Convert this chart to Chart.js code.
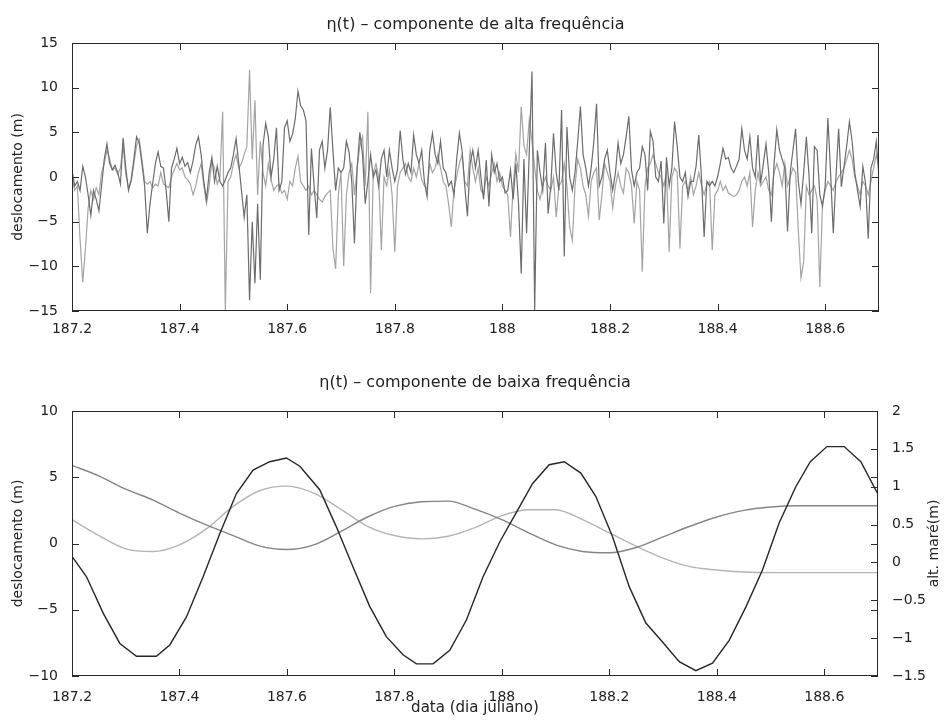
<!DOCTYPE html>
<html>
<head>
<meta charset="utf-8">
<script src="https://cdn.jsdelivr.net/npm/chart.js@4.4.1/dist/chart.umd.min.js"></script>
<style>
  html, body { margin: 0; padding: 0; background: #fff; }
  #wrap { position: relative; width: 946px; height: 727px; }
  canvas { position: absolute; left: 0; }
</style>
</head>
<body>
<div id="wrap">
  <canvas id="hf" width="946" height="350" style="top:0px"></canvas>
  <canvas id="lf" width="946" height="377" style="top:350px"></canvas>
</div>
<script>
// ---- high-frequency record: uniform sampling, 0.005 day ----
const hfStart = 187.2;
const hfStep = 0.005;

const hfDark = [
  // 187.20 - 187.45
  0.8, -1.0, -0.5, -1.5, 1.2, 0.0, -2.0, -4.3, -1.5, -2.5,
  -3.8, -1.0, 2.0, 3.7, 1.5, 0.8, 1.3, 0.5, -0.8, 4.4,
  1.0, -1.5, -0.3, 2.0, 4.5, 3.8, 1.5, -1.0, -6.3, -3.0,
  -0.7, 1.5, 2.8, 1.2, 1.0, -1.5, -5.0, 1.0, 2.0, 3.2,
  1.5, 2.2, 1.2, 1.6, 0.5, 1.8, 3.6, 4.5, 2.5, -0.5,
  -2.5,
  // 187.455 - 187.70
  0.5, 2.2, -0.5, 1.2, -0.5, -1.0, -0.3, 0.5, 1.0, 2.5,
  4.3, 1.5, -1.5, -4.5, -2.0, -13.8, -5.0, -11.9, -3.0, -11.5,
  3.5, 6.0, 4.5, 0.0, 2.0, 5.5, -1.5, -0.5, 5.5, 6.3,
  4.0, 4.8, 6.5, 9.6, 8.0, 7.5, 6.3, -6.5, 3.2, -1.0,
  -4.6, 3.0, 4.0, 1.0, 3.0, 7.8, 3.0, -1.5, 1.0, 0.5,
  // 187.705 - 187.95
  1.0, 4.0, 2.8, -0.5, -7.4, 1.0, 5.0, 2.5, -3.0, -0.5,
  2.5, 0.0, 0.8, -1.0, 2.0, 3.0, 0.0, 3.0, 1.0, -0.5,
  0.8, 5.2, 2.0, 0.3, 1.5, 0.5, 4.7, 2.5, 1.5, 3.0,
  -0.5, -2.2, 3.0, 4.9, 2.5, 1.5, 4.0, 1.0, 0.5, -1.0,
  -0.5, -2.0, 2.0, 4.9, 3.0, -1.0, -4.4, 1.5, 3.0, 1.0,
  // 187.955 - 188.20
  3.0, 0.0, -2.5, 1.9, -3.3, 2.5, 0.5, 1.5, -0.5, 0.0,
  -1.8, -1.5, 0.8, -2.5, 1.5, -3.0, -10.8, 2.0, -6.3, 3.0,
  11.8, -14.9, 3.0, 0.5, -1.5, 3.8, -4.1, -1.0, 4.9, 0.5,
  -1.5, 7.5, -8.9, 5.6, 0.0, -1.5, 0.5, 4.0, 7.9, 2.5,
  1.0, -1.0, 1.0, 4.0, 8.2, -1.0, 0.0, 2.0, 3.0, 0.5,
  // 188.205 - 188.45
  -1.5, 0.4, 3.8, 1.5, 2.5, 4.5, 6.8, 0.8, -1.0, 0.5,
  1.0, 3.4, 2.5, -1.5, 5.1, 4.0, 0.0, -0.5, 1.8, -5.2,
  2.2, -1.0, 1.0, 6.2, 3.4, 0.0, -0.5, 0.5, -2.2, -0.5,
  -0.5, 1.2, 4.7, 0.0, -6.7, -0.5, -1.0, -0.5, -1.0, 0.0,
  1.5, 3.2, 2.0, 2.2, 1.0, 0.5, 1.2, 2.0, 5.4, 3.0,
  // 188.455 - 188.70
  2.0, 4.5, 1.0, 0.0, 4.7, -0.7, 1.5, 3.7, 0.5, -5.0,
  1.5, 5.3, 3.0, 2.0, 1.0, -6.1, 0.5, 3.0, 5.4, -0.5,
  -3.0, 0.5, 4.5, 0.0, -6.3, 3.4, 3.0, -2.0, -3.3, -1.0,
  6.6, 0.5, -6.3, 0.0, 5.4, -1.1, 1.2, 3.5, 6.2, 4.0,
  0.5, -1.5, -3.3, 1.2, -0.7, -6.9, 1.0, 2.0, 4.0, 0.0
];

const hfLight = [
  // 187.20 - 187.45
  0.0, -1.5, -1.0, -7.0, -11.8, -8.0, -3.5, -1.5, -2.5, -1.2,
  -2.0, 0.5, 1.5, 3.0, 2.0, 0.8, 1.0, 0.3, 1.0, 3.5,
  0.3, -1.2, -0.5, 1.5, 3.5, 4.2, 2.0, -0.5, -0.8, -0.5,
  -1.2, -0.8, -1.0, 0.5, -0.8, -1.0, -1.2, 0.0, 0.8, 1.5,
  0.8, 1.0, 0.0, -0.3, -0.8, -2.0, -1.0, 0.5, 1.5, -1.0,
  -3.0,
  // 187.455 - 187.70
  -1.0, 1.8, 1.0, -0.8, 0.0, 7.3, -14.9, -0.5, 0.0, 1.5,
  2.5, 1.0, 1.5, 2.5, 3.4, 12.0, 2.0, 8.6, -2.0, 4.0,
  0.5, -1.0, 1.5, -0.3, -1.5, -1.0, -0.8, -1.8, -1.5, -2.5,
  -0.5, -1.0, 1.0, 2.3, -0.5, -1.0, -1.5, -1.0, -2.0, -1.5,
  -2.0, -2.5, -2.8, -2.2, -1.8, -1.5, -8.0, -10.3, -2.0, 0.5,
  // 187.705 - 187.95
  -10.0, -2.0, 0.5, 1.5, -2.0, 1.0, 3.5, 4.5, -1.0, 7.3,
  -13.0, 0.5, 1.5, 0.0, -8.2, 0.0, -1.0, 0.8, -2.0, -8.4,
  -1.0, 0.5, 1.0, 1.5, 0.0, -0.5, 1.0, 0.0, 1.5, -0.3,
  -1.0, -1.3, 1.5, 0.5, 1.0, 2.5, 1.0, -0.5, -1.0, -3.0,
  -5.6, -1.5, 0.0, 1.5, 2.5, -0.5, -1.0, 3.0, 1.0, -0.5,
  // 187.955 - 188.20
  1.0, -1.5, -2.0, 0.0, -1.0, 0.5, 1.5, -0.5, 0.5, -1.0,
  -1.5, -2.0, -6.7, -1.0, 2.6, 0.5, 7.9, 3.5, 2.5, 6.4,
  4.0, 1.0, -1.5, -2.5, -1.0, 0.0, -1.0, -1.5, 0.0, -4.5,
  -1.0, -0.5, 1.5, -1.0, -5.6, -7.1, -1.0, 2.0, 1.0, -1.0,
  -2.0, -4.4, -0.5, 0.5, 1.0, -4.8, -2.0, 1.5, 0.5, -0.5,
  // 188.205 - 188.45
  -3.5, -1.0, 0.5, -1.0, -1.8, 1.0, 0.5, -1.0, -5.2, -0.5,
  -1.5, -10.6, -1.0, 1.0, 1.5, 2.5, 1.5, 0.5, 0.0, -1.0,
  0.5, -8.4, 0.0, 1.0, 0.5, -8.0, -1.0, -0.5, -1.5, 0.0,
  -2.0, -1.0, 0.5, -1.0, -2.0, -0.8, -0.5, -8.2, -2.0, -1.5,
  -0.5, -1.5, -1.0, -1.8, -2.0, -2.2, -2.0, -1.5, -0.5, 0.0,
  // 188.455 - 188.70
  -1.0, 0.5, -5.6, -1.5, 0.5, -1.0, -0.5, 0.0, -1.5, -2.0,
  0.5, 1.5, 0.5, -1.0, 1.5, -1.0, 0.0, 1.0, 0.5, -6.0,
  -11.3, -9.5, -1.0, -2.0, -1.5, -1.0, -2.5, -12.3, -3.0, -1.5,
  -0.5, -1.0, -1.5, -0.5, 0.0, 0.5, 1.0, 2.0, 3.0, 2.0,
  0.0, -1.0, -2.0, -0.5, -1.0, -2.0, -0.5, 1.0, 2.5, 1.0
];

// ---- low-frequency components (deslocamento, m) ----
const lfTime = [187.20, 187.25, 187.30, 187.35, 187.40, 187.45, 187.50, 187.55, 187.60, 187.65,
                187.70, 187.75, 187.80, 187.85, 187.90, 187.95, 188.00, 188.05, 188.10, 188.15,
                188.20, 188.25, 188.30, 188.35, 188.40, 188.45, 188.50, 188.55, 188.60, 188.65, 188.70];
const lfDark  = [5.9, 5.1, 4.1, 3.3, 2.3, 1.4, 0.6, -0.2, -0.45, -0.1,
                 0.9, 2.0, 2.8, 3.15, 3.2, 2.6, 1.8, 0.8, -0.1, -0.6,
                 -0.7, -0.3, 0.5, 1.3, 2.0, 2.5, 2.75, 2.85, 2.85, 2.85, 2.85];
const lfLight = [1.8, 0.6, -0.4, -0.6, -0.1, 1.1, 2.8, 4.0, 4.33, 3.8,
                 2.6, 1.3, 0.6, 0.35, 0.55, 1.2, 2.1, 2.55, 2.55, 1.8,
                 0.8, -0.2, -1.1, -1.75, -2.0, -2.15, -2.2, -2.2, -2.2, -2.2, -2.2];

// ---- tide height (alt. maré, m) ----
const tideTime = [187.200, 187.227, 187.258, 187.289, 187.320, 187.357, 187.382, 187.413, 187.444, 187.475,
                  187.506, 187.537, 187.568, 187.599, 187.624, 187.661, 187.692, 187.723, 187.754, 187.785,
                  187.816, 187.841, 187.872, 187.903, 187.934, 187.965, 187.996, 188.027, 188.057, 188.088,
                  188.116, 188.147, 188.175, 188.206, 188.237, 188.268, 188.299, 188.330, 188.361, 188.392,
                  188.423, 188.454, 188.485, 188.516, 188.547, 188.574, 188.605, 188.637, 188.668, 188.700];
const tideHeight = [0.08, -0.19, -0.67, -1.07, -1.24, -1.24, -1.09, -0.72, -0.19, 0.38,
                    0.91, 1.22, 1.33, 1.38, 1.27, 0.96, 0.47, -0.06, -0.58, -0.98,
                    -1.22, -1.34, -1.34, -1.16, -0.76, -0.19, 0.27, 0.66, 1.04, 1.29,
                    1.33, 1.18, 0.87, 0.34, -0.32, -0.80, -1.05, -1.31, -1.43, -1.33,
                    -1.03, -0.59, -0.10, 0.52, 1.00, 1.33, 1.53, 1.53, 1.33, 0.90];

// ---- axis ticks ----
const dayTicks = [187.2, 187.4, 187.6, 187.8, 188, 188.2, 188.4, 188.6];
const hfTicks = [-15, -10, -5, 0, 5, 10, 15];
const lfTicks = [-10, -5, 0, 5, 10];
const tideTicks = [-1.5, -1, -0.5, 0, 0.5, 1, 1.5, 2];

const INK = '#222';
const FONT = 'DejaVu Sans';
Chart.defaults.font.family = FONT;
Chart.defaults.font.size = 14;
Chart.defaults.color = INK;

const fmt = v => String(v).replace('-', '\u2212');
const fixedTicks = list => (s => { s.ticks = list.map(v => ({ value: v })); });

// Box frame, inward tick marks on all sides, panel title and right-hand label
const panelFrame = {
  id: 'panelFrame',
  afterDatasetsDraw(chart, args, opts) {
    const { ctx, chartArea: a } = chart;
    const L = 7;
    ctx.save();
    ctx.strokeStyle = '#2a2a2a';
    ctx.lineWidth = 1;
    ctx.strokeRect(a.left + 0.5, a.top + 0.5, a.right - a.left - 1, a.bottom - a.top - 1);
    ctx.beginPath();
    const xs = chart.scales.x;
    xs.ticks.forEach(t => {
      const px = Math.round(xs.getPixelForValue(t.value)) + 0.5;
      ctx.moveTo(px, a.bottom); ctx.lineTo(px, a.bottom - L);
      ctx.moveTo(px, a.top); ctx.lineTo(px, a.top + L);
    });
    const ys = chart.scales.y;
    ys.ticks.forEach(t => {
      const py = Math.round(ys.getPixelForValue(t.value)) + 0.5;
      ctx.moveTo(a.left, py); ctx.lineTo(a.left + L, py);
      ctx.moveTo(a.right, py); ctx.lineTo(a.right - L, py);
    });
    const y2 = chart.scales.y2;
    if (y2) {
      y2.ticks.forEach(t => {
        const py = Math.round(y2.getPixelForValue(t.value)) + 0.5;
        ctx.moveTo(a.right, py); ctx.lineTo(a.right - L, py);
      });
    }
    ctx.stroke();
    ctx.restore();
  },
  afterDraw(chart, args, opts) {
    const { ctx, chartArea: a } = chart;
    ctx.save();
    ctx.fillStyle = INK;
    ctx.textAlign = 'center';
    ctx.textBaseline = 'middle';
    ctx.font = opts.titleSize + 'px "' + FONT + '"';
    ctx.fillText(opts.title, (a.left + a.right) / 2, opts.titleY);
    if (opts.rightLabel) {
      ctx.font = '14px "' + FONT + '"';
      ctx.translate(opts.rightLabelX, (a.top + a.bottom) / 2);
      ctx.rotate(-Math.PI / 2);
      ctx.fillText(opts.rightLabel, 0, 0);
    }
    ctx.restore();
  }
};

const xScale = (height, pad, title) => ({
  type: 'linear',
  min: 187.2, max: 188.7,
  afterBuildTicks: fixedTicks(dayTicks),
  afterFit: s => { s.height = height; },
  grid: { display: false },
  border: { display: false },
  ticks: { padding: pad, maxRotation: 0, autoSkip: false, callback: v => fmt(v) },
  title: title ? { display: true, text: title, font: { size: 15 }, padding: { top: 0, bottom: 10 } } : { display: false }
});

const yLeft = (min, max, list) => ({
  type: 'linear',
  position: 'left',
  min, max,
  afterBuildTicks: fixedTicks(list),
  afterFit: s => { s.width = 72; },
  grid: { display: false },
  border: { display: false },
  ticks: { padding: 6, autoSkip: false, callback: v => fmt(v) },
  title: { display: true, text: 'deslocamento (m)', padding: { top: 10, bottom: 0 } }
});

const lineSet = (data, color, width, extra) => Object.assign({
  data, borderColor: color, borderWidth: width, pointRadius: 0, tension: 0, fill: false
}, extra || {});

const baseOptions = {
  responsive: false,
  animation: false,
  devicePixelRatio: 1,
  events: [],
};

// ---- top panel: high-frequency component ----
new Chart(document.getElementById('hf'), {
  type: 'line',
  data: {
    datasets: [
      lineSet(hfDark.map((v, i) => ({ x: hfStart + i * hfStep, y: v })), '#6c6c6c', 1.2),
      lineSet(hfLight.map((v, i) => ({ x: hfStart + i * hfStep, y: v })), '#a4a4a4', 1.2)
    ]
  },
  options: Object.assign({}, baseOptions, {
    layout: { padding: { top: 43, right: 67, bottom: 0, left: 0 } },
    scales: {
      x: xScale(39, 2, null),
      y: yLeft(-15, 15, hfTicks)
    },
    plugins: {
      legend: { display: false },
      tooltip: { enabled: false },
      panelFrame: { title: '\u03B7(t) \u2013 componente de alta frequ\u00EAncia', titleY: 25, titleSize: 16 }
    }
  }),
  plugins: [panelFrame]
});

// ---- bottom panel: low-frequency component and tide ----
new Chart(document.getElementById('lf'), {
  type: 'line',
  data: {
    datasets: [
      lineSet(tideTime.map((t, i) => ({ x: t, y: tideHeight[i] })), '#262626', 1.4, { yAxisID: 'y2' }),
      lineSet(lfTime.map((t, i) => ({ x: t, y: lfDark[i] })), '#858585', 1.4, { yAxisID: 'y', cubicInterpolationMode: 'monotone' }),
      lineSet(lfTime.map((t, i) => ({ x: t, y: lfLight[i] })), '#b4b4b4', 1.4, { yAxisID: 'y', cubicInterpolationMode: 'monotone' })
    ]
  },
  options: Object.assign({}, baseOptions, {
    layout: { padding: { top: 61, right: 0, bottom: 0, left: 0 } },
    scales: {
      x: xScale(51, 5, 'data (dia juliano)'),
      y: yLeft(-10, 10, lfTicks),
      y2: {
        type: 'linear',
        position: 'right',
        min: -1.5, max: 2,
        afterBuildTicks: fixedTicks(tideTicks),
        afterFit: s => { s.width = 68; },
        grid: { display: false },
        border: { display: false },
        ticks: { padding: 6, autoSkip: false, callback: v => fmt(v) },
        title: { display: false }
      }
    },
    plugins: {
      legend: { display: false },
      tooltip: { enabled: false },
      panelFrame: {
        title: '\u03B7(t) \u2013 componente de baixa frequ\u00EAncia', titleY: 33, titleSize: 16,
        rightLabel: 'alt. mar\u00E9(m)', rightLabelX: 934
      }
    }
  }),
  plugins: [panelFrame]
});
</script>
</body>
</html>
